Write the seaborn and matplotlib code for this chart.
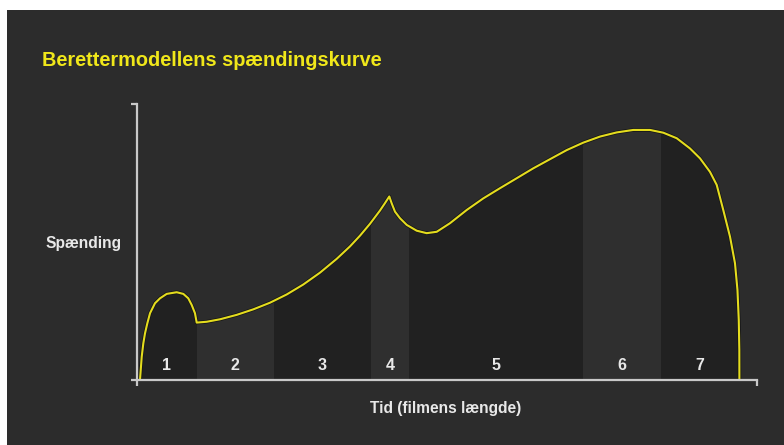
import numpy as np
import pandas as pd
import matplotlib
matplotlib.use("Agg")
import matplotlib.pyplot as plt
import matplotlib.patheffects as pe
from matplotlib.patches import Polygon, Rectangle
import seaborn as sns

# curve (x = share of film length, y = tension, both 0-100)
curve_x = [0.48, 0.60, 0.76, 1.02, 1.29, 1.66, 2.10, 2.90, 3.71, 4.79,
           6.40, 7.47, 8.27, 8.82, 9.35, 9.63,
           11.24, 13.39, 16.08, 18.76, 21.45, 24.15, 26.82, 29.52, 32.21,
           34.35, 35.97, 37.58, 39.19, 40.0, 40.69,
           41.08, 41.61, 42.42, 43.5, 45.11, 46.72, 48.34, 50.48,
           53.18, 55.85, 58.55, 61.24, 63.92, 66.61, 69.31, 71.98,
           74.68, 77.37, 80.05, 82.74, 84.89, 87.05, 89.19, 90.81,
           92.42, 93.5, 94.56, 95.65, 96.45, 96.85, 97.06, 97.15, 97.16]
curve_y = [0.0, 3.6, 8.4, 13.3, 16.9, 20.5, 24.2, 27.8, 29.6, 31.2,
           31.8, 31.2, 29.6, 27.2, 24.2, 20.8,
           21.1, 22.0, 23.6, 25.6, 28.0, 31.0, 34.6, 38.9, 43.9,
           48.4, 52.3, 56.6, 61.4, 64.1, 66.5,
           64.0, 61.0, 58.6, 56.2, 54.1, 53.2, 53.7, 56.8,
           61.6, 65.8, 69.5, 73.1, 76.7, 80.0, 83.3, 86.0,
           88.2, 89.7, 90.6, 90.6, 89.6, 87.6, 83.9, 80.3,
           75.4, 70.7, 61.6, 51.9, 42.3, 32.6, 21.7, 10.9, 0.0]

act_edges = [0.0, 9.6, 22.1, 37.7, 43.9, 71.9, 84.5, 97.2]
act_labels = ["1", "2", "3", "4", "5", "6", "7"]

title = "Berettermodellens spændingskurve"
ylabel = "Spænding"
xlabel = "Tid (filmens længde)"

bg = "#2c2c2c"
dark_band = "#212121"
light_band = "#2f2f2f"
yellow = "#e4dc1e"
title_yellow = "#f0e71a"
text_col = "#e8e8e8"
axis_col = "#c9c9c9"

sns.set_style("dark", {"axes.facecolor": bg})
plt.rcParams["font.family"] = ["Liberation Sans", "DejaVu Sans"]

fig = plt.figure(figsize=(7.84, 4.45), dpi=100)
fig.patch.set_facecolor("white")
fig.patches.append(Rectangle((7 / 784, 0), 777 / 784, 435 / 445,
                             transform=fig.transFigure, facecolor=bg,
                             edgecolor="none", zorder=-10))

ax = fig.add_axes([137 / 784, 65 / 445, 620 / 784, 276 / 445])
ax.set_facecolor(bg)
ax.set_xlim(0, 100)
ax.set_ylim(0, 100)

# bands under the curve
under = Polygon(np.column_stack([curve_x, curve_y]), closed=True,
                transform=ax.transData)
for i, lab in enumerate(act_labels):
    lo, hi = act_edges[i], act_edges[i + 1]
    col = dark_band if i % 2 == 0 else light_band
    span = ax.axvspan(lo, hi, color=col, lw=0, zorder=1)
    span.set_clip_path(under)
    ax.text((lo + hi) / 2, 5.1, lab, ha="center", va="center",
            color=text_col, fontsize=11.5, fontweight="bold", zorder=4)

df = pd.DataFrame({"tid": curve_x, "spaending": curve_y})
sns.lineplot(data=df, x="tid", y="spaending", sort=False, estimator=None,
             ax=ax, color=yellow, lw=1.5, zorder=3,
             solid_joinstyle="round", solid_capstyle="round",
             path_effects=[pe.Stroke(linewidth=2.6, foreground="#151515"),
                           pe.Normal()])

for side in ["top", "right"]:
    ax.spines[side].set_visible(False)
for side in ["left", "bottom"]:
    ax.spines[side].set_color(axis_col)
    ax.spines[side].set_linewidth(1.6)
    ax.spines[side].set_zorder(5)

ax.set_xticks([0, 100])
ax.set_yticks([0, 100])
ax.set_xticklabels([])
ax.set_yticklabels([])
ax.tick_params(axis="both", direction="out", length=4, width=1.6,
               color=axis_col, bottom=True, left=True)
ax.set_xlabel("")
ax.set_ylabel("")
ax.grid(False)

fig.text(42 / 784, 1 - 60 / 445, title, color=title_yellow, fontsize=14.3,
         fontweight="bold", ha="left", va="center")
fig.text(45 / 784, 1 - 243 / 445, ylabel, color=text_col, fontsize=11.2,
         fontweight="bold", ha="left", va="center")
fig.text(446 / 784, 1 - 408 / 445, xlabel, color=text_col, fontsize=11.2,
         fontweight="bold", ha="center", va="center")

fig.savefig("out.png", dpi=100, facecolor=fig.get_facecolor())
